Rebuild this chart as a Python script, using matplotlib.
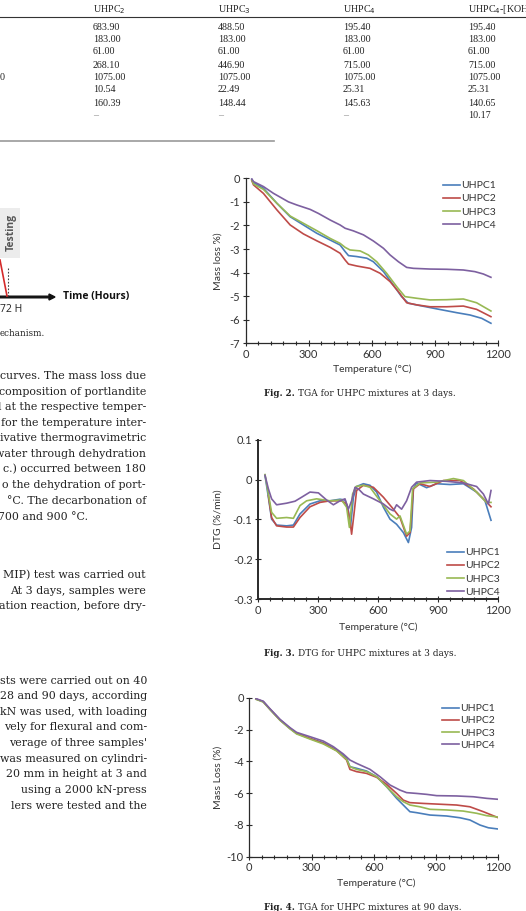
import matplotlib
matplotlib.use("Agg")
import matplotlib.pyplot as plt
from matplotlib.ticker import MultipleLocator, FuncFormatter

plt.rcParams['axes.unicode_minus'] = False

# table at the top of the page (partly cut off)
table_headers = ["UHPC$_2$", "UHPC$_3$", "UHPC$_4$", "UHPC$_4$-[KOH"]
uhpc2_col = ["683.90", "183.00", "61.00", "268.10", "1075.00", "10.54", "160.39", "\u2013"]
uhpc3_col = ["488.50", "183.00", "61.00", "446.90", "1075.00", "22.49", "148.44", "\u2013"]
uhpc4_col = ["195.40", "183.00", "61.00", "715.00", "1075.00", "25.31", "145.63", "\u2013"]
uhpc4koh_col = ["195.40", "183.00", "61.00", "715.00", "1075.00", "25.31", "140.65", "10.17"]

series_names = ["UHPC1", "UHPC2", "UHPC3", "UHPC4"]
series_colors = ["#4a7ebb", "#be4b48", "#98b954", "#7d60a0"]

# Fig. 2 - TGA at 3 days
tga3_t1 = [30, 38, 85, 149, 212, 275, 338, 402, 449, 473, 489, 528, 576, 607, 655, 702, 741, 773, 828, 908, 1002, 1066, 1121, 1165]
tga3_v1 = [-0.05, -0.18, -0.42, -1.06, -1.63, -1.98, -2.33, -2.62, -2.83, -3.11, -3.28, -3.32, -3.39, -3.54, -3.96, -4.53, -5.02, -5.30, -5.40, -5.54, -5.70, -5.80, -5.94, -6.15]
tga3_t2 = [30, 38, 85, 149, 212, 275, 338, 402, 449, 473, 489, 528, 591, 639, 686, 726, 765, 813, 876, 955, 1034, 1097, 1165]
tga3_v2 = [-0.1, -0.28, -0.64, -1.34, -1.98, -2.36, -2.65, -2.93, -3.18, -3.47, -3.64, -3.72, -3.82, -4.03, -4.38, -4.81, -5.28, -5.37, -5.45, -5.45, -5.42, -5.56, -5.87]
tga3_t3 = [30, 38, 85, 149, 212, 275, 338, 402, 449, 473, 496, 544, 583, 623, 670, 718, 757, 813, 876, 955, 1034, 1097, 1165]
tga3_v3 = [-0.08, -0.24, -0.47, -1.06, -1.60, -1.91, -2.22, -2.55, -2.76, -2.93, -3.04, -3.08, -3.25, -3.54, -4.03, -4.60, -5.02, -5.09, -5.16, -5.15, -5.12, -5.28, -5.63]
tga3_t4 = [30, 38, 85, 133, 204, 243, 307, 346, 402, 449, 473, 512, 560, 607, 655, 686, 726, 765, 797, 876, 955, 1034, 1089, 1129, 1165]
tga3_v4 = [-0.03, -0.14, -0.35, -0.64, -1.00, -1.13, -1.32, -1.49, -1.77, -1.98, -2.12, -2.23, -2.40, -2.66, -2.97, -3.25, -3.54, -3.78, -3.82, -3.85, -3.86, -3.89, -3.96, -4.06, -4.20]

# Fig. 3 - DTG at 3 days
dtg_t1 = [35, 52, 68, 93, 143, 177, 210, 260, 310, 360, 410, 435, 452, 463, 477, 493, 527, 560, 593, 627, 660, 693, 727, 752, 768, 777, 793, 843, 893, 960, 1027, 1093, 1135, 1165]
dtg_v1 = [0.011, -0.044, -0.099, -0.114, -0.116, -0.114, -0.086, -0.061, -0.053, -0.053, -0.049, -0.051, -0.078, -0.116, -0.044, -0.017, -0.010, -0.014, -0.031, -0.069, -0.099, -0.112, -0.133, -0.158, -0.120, -0.023, -0.008, -0.020, -0.010, -0.012, -0.010, -0.031, -0.053, -0.102]
dtg_t2 = [52, 68, 93, 143, 177, 210, 260, 310, 360, 418, 443, 460, 468, 480, 493, 527, 577, 627, 677, 710, 743, 760, 777, 810, 860, 927, 1010, 1077, 1127, 1165]
dtg_v2 = [-0.040, -0.095, -0.116, -0.119, -0.119, -0.095, -0.068, -0.057, -0.053, -0.053, -0.061, -0.103, -0.137, -0.086, -0.027, -0.014, -0.019, -0.044, -0.074, -0.095, -0.142, -0.133, -0.023, -0.010, -0.017, -0.002, -0.002, -0.023, -0.048, -0.068]
dtg_t3 = [35, 52, 68, 93, 143, 177, 210, 243, 293, 360, 418, 443, 457, 473, 490, 527, 560, 610, 660, 693, 710, 743, 760, 773, 810, 893, 977, 1027, 1093, 1143, 1165]
dtg_v3 = [0.013, -0.036, -0.082, -0.097, -0.095, -0.097, -0.065, -0.053, -0.048, -0.053, -0.051, -0.069, -0.120, -0.036, -0.017, -0.014, -0.019, -0.053, -0.086, -0.099, -0.091, -0.137, -0.129, -0.023, -0.008, -0.006, 0.003, -0.002, -0.031, -0.057, -0.057]
dtg_t4 = [35, 52, 68, 93, 143, 185, 218, 260, 302, 343, 377, 410, 435, 452, 468, 485, 502, 527, 577, 627, 660, 677, 693, 718, 743, 768, 793, 860, 943, 1027, 1093, 1127, 1152, 1165]
dtg_v4 = [0.011, -0.023, -0.048, -0.063, -0.059, -0.054, -0.044, -0.031, -0.033, -0.051, -0.063, -0.053, -0.048, -0.074, -0.053, -0.019, -0.023, -0.036, -0.048, -0.061, -0.074, -0.078, -0.063, -0.074, -0.053, -0.019, -0.006, -0.002, -0.004, -0.008, -0.017, -0.036, -0.061, -0.027]

# Fig. 4 - TGA at 90 days
tga90_t1 = [32, 67, 100, 148, 196, 228, 292, 357, 421, 469, 485, 517, 565, 614, 662, 710, 742, 774, 806, 871, 951, 1015, 1063, 1112, 1152, 1200]
tga90_v1 = [-0.08, -0.25, -0.73, -1.40, -1.93, -2.24, -2.56, -2.83, -3.29, -3.82, -4.34, -4.44, -4.61, -4.97, -5.60, -6.33, -6.75, -7.17, -7.23, -7.38, -7.44, -7.55, -7.69, -8.01, -8.18, -8.26]
tga90_t2 = [32, 67, 100, 148, 196, 228, 292, 357, 421, 469, 485, 517, 565, 614, 662, 710, 742, 774, 839, 903, 999, 1063, 1128, 1200]
tga90_v2 = [-0.08, -0.25, -0.73, -1.40, -1.93, -2.24, -2.56, -2.87, -3.33, -3.92, -4.51, -4.65, -4.76, -5.01, -5.45, -6.02, -6.44, -6.60, -6.65, -6.69, -6.75, -6.86, -7.17, -7.55]
tga90_t3 = [32, 67, 100, 148, 196, 228, 292, 357, 421, 469, 485, 517, 565, 614, 662, 710, 742, 774, 822, 871, 951, 1031, 1096, 1144, 1200]
tga90_v3 = [-0.10, -0.27, -0.75, -1.42, -1.96, -2.28, -2.60, -2.91, -3.35, -3.88, -4.34, -4.51, -4.65, -4.97, -5.60, -6.23, -6.54, -6.75, -6.86, -7.02, -7.06, -7.13, -7.27, -7.42, -7.51]
tga90_t4 = [32, 67, 100, 148, 196, 228, 292, 357, 405, 453, 485, 517, 582, 630, 678, 726, 758, 806, 855, 903, 999, 1080, 1144, 1200]
tga90_v4 = [-0.06, -0.22, -0.70, -1.36, -1.88, -2.18, -2.45, -2.73, -3.08, -3.54, -3.92, -4.13, -4.51, -4.97, -5.49, -5.81, -5.97, -6.02, -6.08, -6.16, -6.18, -6.23, -6.33, -6.39]

W, H = 526, 911
fig = plt.figure(figsize=(W / 100, H / 100), dpi=100)

def box(l, t, r, b):
    return [l / W, 1 - b / H, (r - l) / W, (b - t) / H]

def put(x, y, s, **kw):
    # place text using page pixel coordinates
    fig.text(x / W, 1 - y / H, s, **kw)

tserif = "Liberation Serif"
serif = "DejaVu Serif"
sans = "Lato"
ink = "#222222"

# ---- table
col_x = [93, 218, 343, 468]
row_y = [27, 39, 52, 65, 78, 90, 103, 116]
for x, head, col in zip(col_x, table_headers, [uhpc2_col, uhpc3_col, uhpc4_col, uhpc4koh_col]):
    put(x, 10, head, family=tserif, fontsize=7.2, color=ink, va="center")
    for y, val in zip(row_y, col):
        put(x, y, val, family=tserif, fontsize=7.2, va="center",
            color="#888888" if val == "\u2013" else ink)
put(0, 78, "0", family=tserif, fontsize=7.2, va="center", color=ink)
fig.add_artist(plt.Line2D([0, 1], [1 - 17 / H, 1 - 17 / H], color="#333333", lw=0.8))
fig.add_artist(plt.Line2D([0, 0.52], [1 - 141 / H, 1 - 141 / H], color="#999999", lw=1.2))

# ---- fragment of Fig. 1
fig.add_artist(plt.Rectangle((0, 1 - 258 / H), 20 / W, 50 / H, color="#ececec", lw=0))
put(11, 232, "Testing", family="Open Sans", fontsize=7.5, fontweight="bold",
    color="#555555", rotation=90, ha="center", va="center")
fig.add_artist(plt.Line2D([0, 7 / W], [1 - 260 / H, 1 - 296 / H], color="#d42a2a", lw=1.2))
fig.add_artist(plt.Line2D([8 / W, 8 / W], [1 - 268 / H, 1 - 296 / H], color="#444444", lw=0.8, ls=(0, (1.5, 1.5))))
fig.add_artist(matplotlib.patches.FancyArrow(0, 1 - 297 / H, 55 / W, 0, width=1.6 / H,
                                             head_width=6 / H, head_length=6 / W,
                                             length_includes_head=True, color="#111111"))
put(63, 297, "Time (Hours)", family="Open Sans", fontsize=7.5, fontweight="bold", color="#111111", va="center")
put(0, 310, "72 H", family="Open Sans", fontsize=7.5, color="#222222", va="center")
put(0, 334, "echanism.", family=serif, fontsize=6.3, color=ink, va="center")

# ---- body text fragments (justified text, right edge visible)
body = 7.9
para1 = ["curves. The mass loss due", "composition of portlandite", "l at the respective temper-",
         "for the temperature inter-", "ivative thermogravimetric", "water through dehydration",
         "c.) occurred between 180", "o the dehydration of port-", "\u00b0C. The decarbonation of"]
para1_y = [376, 392, 407, 423, 438, 454, 469, 485, 501]
for s, y in zip(para1, para1_y):
    put(146, y, s, family=serif, fontsize=body, color=ink, ha="right", va="center")
put(-2, 517, "700 and 900 \u00b0C.", family=serif, fontsize=body, color=ink, va="center")

para2 = ["MIP) test was carried out", "At 3 days, samples were", "ation reaction, before dry-"]
for s, y in zip(para2, [575, 591, 606]):
    put(146, y, s, family=serif, fontsize=body, color=ink, ha="right", va="center")

para3 = ["sts were carried out on 40", "28 and 90 days, according", "kN was used, with loading",
         "vely for flexural and com-", "verage of three samples'", "was measured on cylindri-",
         "20 mm in height at 3 and", "using a 2000 kN-press", "lers were tested and the"]
para3_y = [681, 696, 712, 727, 743, 759, 774, 790, 806]
for s, y in zip(para3, para3_y):
    put(147, y, s, family=serif, fontsize=body, color=ink, ha="right", va="center")

# ---- the three charts
def chart(pos, ts, vs, ylim, ystep, ylabel, xlabel_pos, caption, caption_xy, leg_pos, leg_space, spine_w):
    ax = fig.add_axes(box(*pos))
    for t, v, name, c in zip(ts, vs, series_names, series_colors):
        ax.plot(t, v, color=c, lw=1.2, label=name)
    ax.set_xlim(0, 1200)
    ax.set_ylim(*ylim)
    ax.xaxis.set_major_locator(MultipleLocator(300))
    ax.xaxis.set_minor_locator(MultipleLocator(60))
    ax.yaxis.set_major_locator(MultipleLocator(ystep))
    ax.yaxis.set_major_formatter(FuncFormatter(lambda v, p: "%g" % round(v, 3)))
    for s in ["top", "right"]:
        ax.spines[s].set_visible(False)
    for s in ["left", "bottom"]:
        ax.spines[s].set_color("#2a2a2a")
        ax.spines[s].set_linewidth(spine_w)
    ax.tick_params(which="both", direction="inout", color="#2a2a2a", width=0.8,
                   labelsize=8, labelcolor="#333333", pad=2)
    ax.tick_params(which="major", length=4)
    ax.tick_params(which="minor", length=3)
    for lab in ax.get_xticklabels() + ax.get_yticklabels():
        lab.set_family(sans)
    ax.legend(loc="upper left", bbox_to_anchor=(leg_pos[0] / W, 1 - leg_pos[1] / H),
              bbox_transform=fig.transFigure, frameon=False, borderpad=0, borderaxespad=0,
              handlelength=1.6, handletextpad=0.15, labelspacing=leg_space,
              prop={"family": sans, "size": 7.5}, labelcolor="#333333")
    mid = (pos[1] + pos[3]) / 2
    put(218, mid, ylabel, family=sans, fontsize=7.5, color="#333333",
        rotation=90, ha="center", va="center")
    put(xlabel_pos[0], xlabel_pos[1], "Temperature (\u00b0C)", family=sans, fontsize=7.5,
        color="#333333", ha="center", va="center")
    put(caption_xy[0], caption_xy[1], "Fig. " + caption[0] + ".", family=serif, fontweight="bold",
        fontsize=6.2, color=ink, ha="right", va="center")
    put(298, caption_xy[1], caption[1], family=serif, fontsize=6.5, color=ink, va="center")
    return ax

chart((245.5, 178.3, 498.3, 343.3),
      [tga3_t1, tga3_t2, tga3_t3, tga3_t4], [tga3_v1, tga3_v2, tga3_v3, tga3_v4],
      (-7, 0), 1, "Mass loss %)", (372, 369), ("2", "TGA for UHPC mixtures at 3 days."), (295, 393),
      (443, 181), 0.37, 0.9)

chart((258, 440, 498, 599),
      [dtg_t1, dtg_t2, dtg_t3, dtg_t4], [dtg_v1, dtg_v2, dtg_v3, dtg_v4],
      (-0.3, 0.1), 0.1, "DTG (%/min)", (378, 627), ("3", "DTG for UHPC mixtures at 3 days."), (295, 654),
      (447, 548), 0.37, 1.4)

chart((249.3, 697.7, 498.3, 856.7),
      [tga90_t1, tga90_t2, tga90_t3, tga90_t4], [tga90_v1, tga90_v2, tga90_v3, tga90_v4],
      (-10, 0), 2, "Mass Loss (%)", (376, 883), ("4", "TGA for UHPC mixtures at 90 days."), (295, 907),
      (442, 704), 0.27, 0.9)

fig.savefig("out.png", dpi=100)
